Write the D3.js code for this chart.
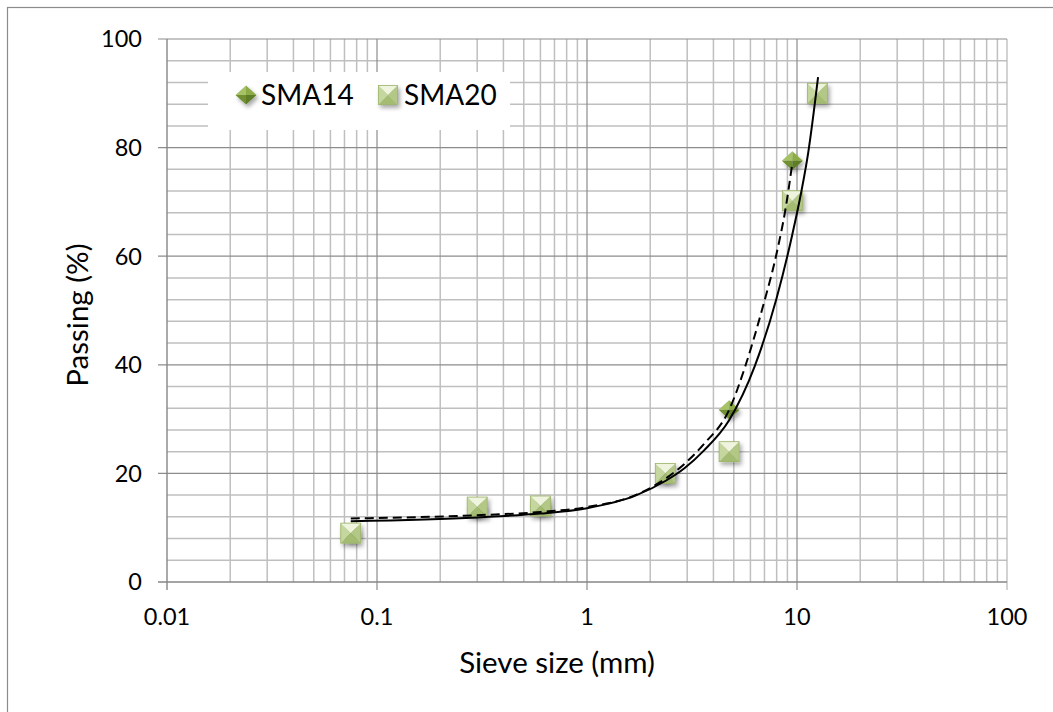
<!DOCTYPE html>
<html>
<head>
<meta charset="utf-8">
<script src="https://cdn.jsdelivr.net/npm/d3@7"></script>
<style>
  body { margin: 0; background: #fff; }
  text { font-family: Lato, "Open Sans", sans-serif; fill: #000; }
</style>
</head>
<body>
<svg id="chart" width="1053" height="712"></svg>
<script>
// Data
const sieve14 = [0.075, 0.3, 0.6, 2.36, 4.75, 9.5]
const passing14 = [9, 13.5, 14, 20, 31.7, 77.6]
const sieve20 = [0.075, 0.3, 0.6, 2.36, 4.75, 9.5, 12.5]
const passing20 = [9, 13.8, 14, 20, 24, 70.2, 90]

// Trendlines as drawn in the picture
const trend14X = [0.075, 0.3, 0.6, 1.0, 1.7, 2.36, 2.9, 3.6, 4.75, 5.7, 6.8, 8.1, 8.8, 9.45]
const trend14Y = [11.7, 12.3, 12.9, 13.8, 16.0, 19.0, 21.7, 25.4, 31.7, 40, 50, 61.5, 68.5, 76.5]
const trend20X = [0.075, 0.3, 0.6, 1.0, 1.7, 2.36, 2.9, 3.6, 4.75, 6.3, 8.0, 9.5, 10.5, 11.3, 12.6]
const trend20Y = [11.2, 11.9, 12.6, 13.6, 15.9, 18.6, 20.9, 24.2, 29.8, 39.8, 52.3, 64, 72, 79, 93]

const xTicks = [0.01, 0.1, 1, 10, 100]
const xTickLabels = ['0.01', '0.1', '1', '10', '100']
const yTicks = [0, 20, 40, 60, 80, 100]
const seriesNames = ['SMA14', 'SMA20']

const svg = d3.select('#chart')
const plotLeft = 167, plotRight = 1007, plotTop = 39, plotBottom = 582

const x = d3.scaleLog().domain([0.01, 100]).range([plotLeft, plotRight])
const y = d3.scaleLinear().domain([0, 100]).range([plotBottom, plotTop])

// Outer frame
svg.append('rect')
  .attr('x', 7.5).attr('y', 7.5)
  .attr('width', 1060).attr('height', 720)
  .attr('fill', '#fff')
  .attr('stroke', '#8c8c8c')
  .attr('stroke-width', 1.2)

// Marker defs
const defs = svg.append('defs')
const shadow = defs.append('filter').attr('id', 'shadow')
  .attr('x', '-50%').attr('y', '-50%').attr('width', '200%').attr('height', '200%')
shadow.append('feDropShadow')
  .attr('dx', 2).attr('dy', 3)
  .attr('stdDeviation', 2)
  .attr('flood-color', '#000')
  .attr('flood-opacity', 0.35)

// Gridlines
const minorX = []
for (let e = -2; e < 2; e++) {
  for (let k = 2; k <= 9; k++) minorX.push(k * Math.pow(10, e))
}
const minorY = d3.range(4, 100, 4).filter(v => v % 20 !== 0)

const grid = svg.append('g')
grid.selectAll('.vminor').data(minorX).join('line')
  .attr('x1', d => x(d)).attr('x2', d => x(d))
  .attr('y1', plotTop).attr('y2', plotBottom)
  .attr('stroke', '#bfbfbf').attr('stroke-width', 1.5)
grid.selectAll('.hminor').data(minorY).join('line')
  .attr('x1', plotLeft).attr('x2', plotRight)
  .attr('y1', d => y(d)).attr('y2', d => y(d))
  .attr('stroke', '#bfbfbf').attr('stroke-width', 1.5)
grid.selectAll('.vmajor').data(xTicks.slice(1)).join('line')
  .attr('x1', d => x(d)).attr('x2', d => x(d))
  .attr('y1', plotTop).attr('y2', plotBottom + 8)
  .attr('stroke', d => d === 100 ? '#b5b5b5' : '#8c8c8c').attr('stroke-width', 1.2)
grid.selectAll('.hmajor').data(yTicks.slice(1)).join('line')
  .attr('x1', plotLeft - 9).attr('x2', plotRight)
  .attr('y1', d => y(d)).attr('y2', d => y(d))
  .attr('stroke', '#8c8c8c').attr('stroke-width', 1.2)

// Axes lines
svg.append('line')
  .attr('x1', plotLeft).attr('x2', plotLeft).attr('y1', plotTop).attr('y2', plotBottom + 8)
  .attr('stroke', '#868686').attr('stroke-width', 1.4)
svg.append('line')
  .attr('x1', plotLeft - 9).attr('x2', plotRight).attr('y1', plotBottom).attr('y2', plotBottom)
  .attr('stroke', '#868686').attr('stroke-width', 1.4)

// Tick labels
svg.selectAll('.xlab').data(xTicks).join('text')
  .attr('x', d => x(d)).attr('y', plotBottom + 43)
  .attr('text-anchor', 'middle')
  .style('font-size', '23.5px')
  .text((d, i) => xTickLabels[i])
svg.selectAll('.ylab').data(yTicks).join('text')
  .attr('x', 142).attr('y', d => y(d))
  .attr('dy', '0.36em')
  .attr('text-anchor', 'end')
  .style('font-size', '23.5px')
  .text(d => d)

// Axis titles
svg.append('text')
  .attr('x', 557).attr('y', 673)
  .attr('text-anchor', 'middle')
  .style('font-size', '29.5px')
  .text('Sieve size (mm)')
svg.append('text')
  .attr('transform', 'translate(88, 315) rotate(-90)')
  .attr('text-anchor', 'middle')
  .style('font-size', '29.5px')
  .text('Passing (%)')

// Markers
function diamond (g, s) {
  const h = s / 2, v = s / 2 - 1
  g.append('path').attr('d', `M0,${-v}L${-h},0L0,0Z`).attr('fill', '#a6c266')
  g.append('path').attr('d', `M0,${-v}L${h},0L0,0Z`).attr('fill', '#8dac47')
  g.append('path').attr('d', `M${-h},0L0,${v}L0,0Z`).attr('fill', '#6f8f30')
  g.append('path').attr('d', `M${h},0L0,${v}L0,0Z`).attr('fill', '#5e7d25')
}
function square (g, s) {
  const h = s / 2
  g.append('path').attr('d', `M${-h},${-h}L${h},${-h}L0,0Z`).attr('fill', '#eef4dd')
  g.append('path').attr('d', `M${-h},${-h}L${-h},${h}L0,0Z`).attr('fill', '#c5d69e')
  g.append('path').attr('d', `M${h},${-h}L${h},${h}L0,0Z`).attr('fill', '#b3c887')
  g.append('path').attr('d', `M${-h},${h}L${h},${h}L0,0Z`).attr('fill', '#a4bb72')
  g.append('rect').attr('x', -h).attr('y', -h).attr('width', s).attr('height', s)
    .attr('fill', 'none').attr('stroke', '#9bb366').attr('stroke-width', 0.8)
}

const pts14 = sieve14.map((d, i) => [d, passing14[i]])
const pts20 = sieve20.map((d, i) => [d, passing20[i]])

svg.append('g').selectAll('g').data(pts14).join('g')
  .attr('transform', d => `translate(${x(d[0])},${y(d[1])})`)
  .attr('filter', 'url(#shadow)')
  .each(function () { diamond(d3.select(this), 21) })

svg.append('g').selectAll('g').data(pts20).join('g')
  .attr('transform', d => `translate(${x(d[0])},${y(d[1])})`)
  .attr('filter', 'url(#shadow)')
  .each(function () { square(d3.select(this), 20) })

// Trendlines
const line = d3.line()
  .x(d => x(d[0]))
  .y(d => y(d[1]))
  .curve(d3.curveMonotoneX)

svg.append('path')
  .datum(trend14X.map((d, i) => [d, trend14Y[i]]))
  .attr('d', line)
  .attr('fill', 'none')
  .attr('stroke', '#000')
  .attr('stroke-width', 2)
  .attr('stroke-dasharray', '9,5')

svg.append('path')
  .datum(trend20X.map((d, i) => [d, trend20Y[i]]))
  .attr('d', line)
  .attr('fill', 'none')
  .attr('stroke', '#000')
  .attr('stroke-width', 2)

// Legend
const legend = svg.append('g')
legend.append('rect')
  .attr('x', 208).attr('y', 72)
  .attr('width', 302).attr('height', 58)
  .attr('fill', '#fff')

const l1 = legend.append('g').attr('transform', 'translate(246,95)').attr('filter', 'url(#shadow)')
diamond(l1, 21)
legend.append('text').attr('x', 261).attr('y', 105)
  .style('font-size', '28px').text(seriesNames[0])

const l2 = legend.append('g').attr('transform', 'translate(388,95)').attr('filter', 'url(#shadow)')
square(l2, 19)
legend.append('text').attr('x', 404).attr('y', 105)
  .style('font-size', '28px').text(seriesNames[1])
</script>
</body>
</html>
